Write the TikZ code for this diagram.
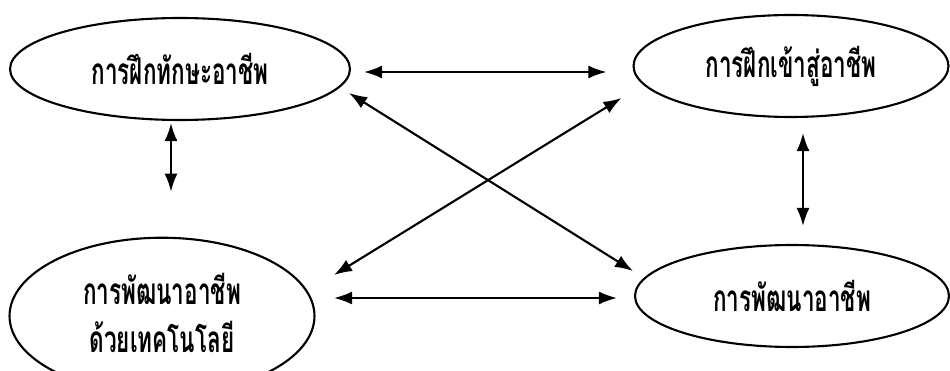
\documentclass[tikz,border=0pt]{standalone}
\usepackage{fontspec}
\newfontfamily\thaifont[Script=Thai, FakeStretch=0.61]{Loma}
\usetikzlibrary{shapes.geometric, arrows.meta}
% two lines of a label, baselines 27pt apart
\newcommand{\joblines}[2]{\vbox{\offinterlineskip\halign{\hfil##\hfil\cr
  \vrule height25pt width0pt\smash{#1}\cr
  \vrule height27pt depth11pt width0pt\smash{#2}\cr}}}
\tikzset{
  job/.style={draw, ellipse, line width=1.2pt, inner sep=0pt, font=\thaifont\bfseries\fontsize{21}{25.5}\selectfont},
  link/.style={<->, line width=1.2pt}
}
\begin{document}
\begin{tikzpicture}[x=0.02cm, y=-0.02cm, >={Latex[length=0.36cm, width=0.26cm]}]
\useasboundingbox (0,0) rectangle (950,371);

\node[job, minimum width=6.8cm, minimum height=2.04cm] (skill) at (180,69) {การฝึกทักษะอาชีพ};
\node[job, minimum width=6.3cm, minimum height=2.04cm] (entry) at (791,66) {การฝึกเข้าสู่อาชีพ};
\node[job, minimum width=6.1cm, minimum height=2.16cm] (tech) at (162,316) {\joblines{การพัฒนาอาชีพ}{ด้วยเทคโนโลยี}};
\node[job, minimum width=6.28cm, minimum height=2.04cm] (dev) at (792,296) {การพัฒนาอาชีพ};

\draw[link] ([shift={(13,3)}]skill.east) -- ([shift={(-26,6)}]entry.west);
\draw[link] ([shift={(18.5,-18)}]tech.east) -- ([shift={(-17,2)}]dev.west);
\draw[link] ([shift={(-9,2)}]skill.south) -- ([shift={(9,-45)}]tech.north);
\draw[link] ([shift={(12,15)}]entry.south) -- ([shift={(11,-18)}]dev.north);
\draw[link] ([shift={(-2,24)}]skill.east) -- ([shift={(-1,-25)}]dev.west);
\draw[link] ([shift={(-11,32)}]entry.west) -- ([shift={(18.5,-41)}]tech.east);
\end{tikzpicture}
\end{document}
